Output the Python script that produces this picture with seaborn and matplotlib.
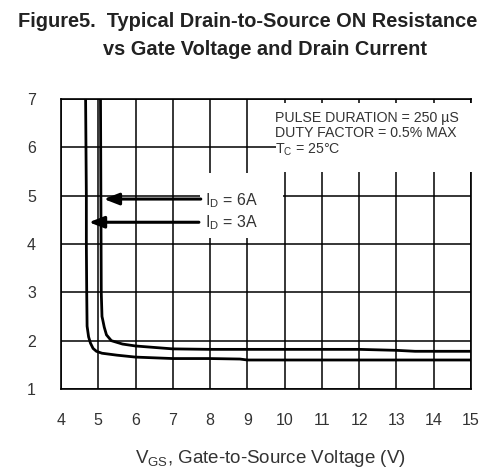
import numpy as np
import pandas as pd
import matplotlib
matplotlib.use("Agg")
import matplotlib.pyplot as plt
import seaborn as sns
from matplotlib.patches import Rectangle

# Данные
vgs_3a = [4.66, 4.67, 4.68, 4.68, 4.69, 4.70, 4.74, 4.79, 4.86, 4.95, 5.1, 5.5, 6.0, 7.0, 8.0, 8.8, 9.0, 12.0, 15.0]
rds_3a = [7.0, 6.0, 5.0, 4.0, 3.0, 2.3, 2.08, 1.95, 1.84, 1.78, 1.74, 1.70, 1.66, 1.63, 1.63, 1.62, 1.60, 1.60, 1.60]

vgs_6a = [5.06, 5.07, 5.08, 5.10, 5.12, 5.16, 5.22, 5.35, 5.65, 6.0, 7.0, 8.0, 12.0, 13.0, 13.5, 15.0]
rds_6a = [7.0, 5.0, 3.0, 2.5, 2.43, 2.28, 2.12, 2.00, 1.93, 1.89, 1.83, 1.82, 1.82, 1.80, 1.78, 1.78]

x_ticks = list(range(4, 16))
y_ticks = list(range(1, 8))

df = pd.concat([
    pd.DataFrame({"vgs": vgs_3a, "rds": rds_3a, "id": "3A"}),
    pd.DataFrame({"vgs": vgs_6a, "rds": rds_6a, "id": "6A"}),
])

sns.set_style("white")
plt.rcParams["font.family"] = ["Liberation Sans", "DejaVu Sans"]
plt.rcParams["mathtext.default"] = "regular"
txt = "#333333"

fig = plt.figure(figsize=(4.87, 4.71), dpi=100)
ax = fig.add_axes([61 / 487, 82 / 471, 410 / 487, 290 / 471])

sns.lineplot(data=df, x="vgs", y="rds", units="id", estimator=None, sort=False,
             color="black", lw=2.0, ax=ax, zorder=3)

ax.set_xlim(4, 15)
ax.set_ylim(1, 7)
ax.set_xticks(x_ticks)
ax.set_yticks(y_ticks)
ax.grid(True, color="black", lw=1.1)
ax.set_axisbelow(True)
for s in ax.spines.values():
    s.set_color("black")
    s.set_linewidth(1.2)
ax.tick_params(axis="x", length=0, pad=17, labelsize=11.5, labelcolor=txt)
ax.tick_params(axis="y", length=0, pad=18, labelsize=11.5, labelcolor=txt)
ax.set_xlabel("")
ax.set_ylabel("")

# белые подложки под подписями
ax.add_patch(Rectangle((0.524, 0.748), 0.482, 0.238, transform=ax.transAxes,
                       facecolor="white", edgecolor="none", clip_on=False, zorder=4))
ax.add_patch(Rectangle((0.339, 0.521), 0.202, 0.224, transform=ax.transAxes,
                       facecolor="white", edgecolor="none", clip_on=False, zorder=4))

ax.text(0.522, 0.96, "PULSE DURATION = 250 µS\nDUTY FACTOR = 0.5% MAX\nT$_C$ = 25°C",
        transform=ax.transAxes, fontsize=10.2, color=txt, va="top", ha="left",
        linespacing=1.15, zorder=5)

arrow = dict(arrowstyle="-|>,head_length=0.9,head_width=0.35", color="black", lw=2.2,
             shrinkA=0, shrinkB=0)
ax.annotate("", xy=(5.15, 4.93), xytext=(7.75, 4.93), arrowprops=arrow, zorder=5)
ax.annotate("", xy=(4.75, 4.45), xytext=(7.7, 4.45), arrowprops=arrow, zorder=5)
ax.text(7.86, 4.9, "I$_D$ = 6A", fontsize=11.5, color=txt, va="center", ha="left", zorder=5)
ax.text(7.86, 4.44, "I$_D$ = 3A", fontsize=11.5, color=txt, va="center", ha="left", zorder=5)

fig.text(18 / 487, 1 - 27 / 471, "Figure5.  Typical Drain-to-Source ON Resistance",
         fontsize=14.4, fontweight="bold", color="#222222", va="baseline", ha="left")
fig.text(103 / 487, 1 - 55 / 471, "vs Gate Voltage and Drain Current",
         fontsize=14.4, fontweight="bold", color="#222222", va="baseline", ha="left")
fig.text(270 / 487, 1 - 463 / 471, "V$_{GS}$, Gate-to-Source Voltage (V)",
         fontsize=13.5, color=txt, va="baseline", ha="center")

fig.savefig("out.png", dpi=100)
